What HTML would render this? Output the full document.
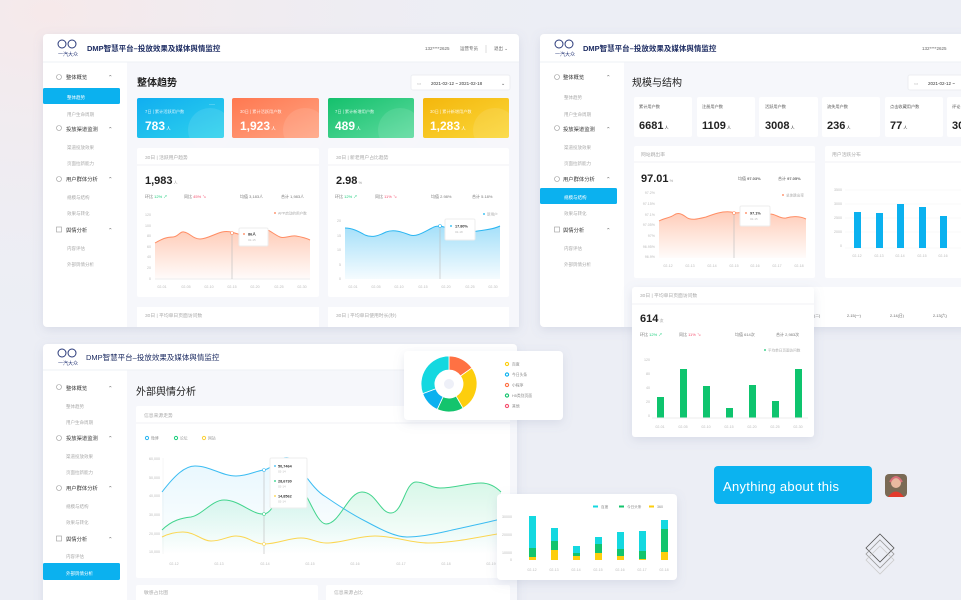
<!DOCTYPE html>
<html><head><meta charset="utf-8"><style>
html,body{margin:0;padding:0;width:961px;height:600px;overflow:hidden;background:#eceef5}
svg{display:block}
text{font-family:"Liberation Sans","Noto Sans CJK SC",sans-serif}
</style></head><body>
<svg width="961" height="600" viewBox="0 0 961 600" xmlns="http://www.w3.org/2000/svg">
<defs>
<radialGradient id="bg1" cx="0.05" cy="0.02" r="0.6"><stop offset="0" stop-color="#f6e9ea"/><stop offset="1" stop-color="#eceef5" stop-opacity="0"/></radialGradient>
<linearGradient id="gB" x1="0" y1="0" x2="1" y2="1"><stop offset="0" stop-color="#10aef0"/><stop offset="1" stop-color="#2fd2ec"/></linearGradient>
<linearGradient id="gO" x1="0" y1="0" x2="1" y2="1"><stop offset="0" stop-color="#ff7850"/><stop offset="1" stop-color="#ffa584"/></linearGradient>
<linearGradient id="gG" x1="0" y1="0" x2="1" y2="1"><stop offset="0" stop-color="#14c06c"/><stop offset="1" stop-color="#5edb9f"/></linearGradient>
<linearGradient id="gY" x1="0" y1="0" x2="1" y2="1"><stop offset="0" stop-color="#f4b60c"/><stop offset="1" stop-color="#fbd83a"/></linearGradient>
<linearGradient id="aO" x1="0" y1="0" x2="0" y2="1"><stop offset="0" stop-color="#ff8a5c" stop-opacity=".45"/><stop offset="1" stop-color="#ff8a5c" stop-opacity=".03"/></linearGradient>
<linearGradient id="aB" x1="0" y1="0" x2="0" y2="1"><stop offset="0" stop-color="#36b9f2" stop-opacity=".45"/><stop offset="1" stop-color="#36b9f2" stop-opacity=".05"/></linearGradient>
<linearGradient id="aG" x1="0" y1="0" x2="0" y2="1"><stop offset="0" stop-color="#1ccf7d" stop-opacity=".18"/><stop offset="1" stop-color="#1ccf7d" stop-opacity="0"/></linearGradient>
<linearGradient id="aLB" x1="0" y1="0" x2="0" y2="1"><stop offset="0" stop-color="#36b9f2" stop-opacity=".12"/><stop offset="1" stop-color="#36b9f2" stop-opacity="0"/></linearGradient>
<filter id="sh" x="-10%" y="-10%" width="120%" height="130%"><feDropShadow dx="0" dy="3" stdDeviation="5" flood-color="#7a86a8" flood-opacity=".18"/></filter>
</defs>
<rect width="961" height="600" fill="#eceef5"/>
<rect width="961" height="600" fill="url(#bg1)"/>

<!-- ================= PANEL 1 ================= -->
<g>
<rect x="43" y="34" width="476" height="293" rx="4" fill="#fff" filter="url(#sh)"/>
<rect x="127" y="62" width="392" height="265" fill="#f6f7fb"/>
<line x1="43" y1="62" x2="519" y2="62" stroke="#eef0f4"/>
<circle cx="62" cy="44" r="4" fill="none" stroke="#2a3a7a"/><circle cx="72" cy="44" r="4" fill="none" stroke="#2a3a7a"/>
<text x="58" y="56" font-size="5" fill="#2a3a7a">一汽大众</text>
<text x="87" y="51" font-size="7.5" fill="#1e2d63" font-weight="bold">DMP智慧平台–投放效果及媒体舆情监控</text>
<text x="425" y="50" font-size="4.5" fill="#666">132****2625</text>
<text x="460" y="50" font-size="4.5" fill="#666">运营专员</text>
<line x1="486" y1="45" x2="486" y2="53" stroke="#ddd"/>
<text x="494" y="50" font-size="4.5" fill="#666">退出 ⌄</text>
<g font-size="5.3" fill="#333">
<circle cx="59" cy="77" r="2.5" fill="none" stroke="#999" stroke-width=".6"/><text x="66" y="79">整体概览</text><text x="108" y="79" fill="#666">⌃</text>
<circle cx="59" cy="128" r="2.5" fill="none" stroke="#999" stroke-width=".6"/><text x="66" y="131">投放渠道监测</text><text x="108" y="131" fill="#666">⌃</text>
<circle cx="59" cy="179" r="2.5" fill="none" stroke="#999" stroke-width=".6"/><text x="66" y="181">用户群体分析</text><text x="108" y="181" fill="#666">⌃</text>
<rect x="56.5" y="227" width="5" height="5" fill="none" stroke="#999" stroke-width=".6"/><text x="66" y="232">舆情分析</text><text x="108" y="232" fill="#666">⌃</text>
</g>
<rect x="43" y="88" width="77" height="16" rx="1.5" fill="#0bb1ef"/>
<g font-size="4.5" fill="#aaa">
<text x="67" y="99" fill="#fff">整体趋势</text>
<text x="67" y="116">用户生命周期</text>
<text x="67" y="149">渠道投放效果</text>
<text x="67" y="165">页面拉新能力</text>
<text x="67" y="199">规模与结构</text>
<text x="67" y="215">效果与转化</text>
<text x="67" y="250">内容评估</text>
<text x="67" y="266">外部舆情分析</text>
</g>
<text x="137" y="86" font-size="10" fill="#222" font-weight="bold">整体趋势</text>
<rect x="411" y="75" width="99" height="15" rx="2" fill="#fff" stroke="#eceef2"/>
<text x="417" y="85" font-size="4.5" fill="#bbb">▭</text>
<text x="431" y="85" font-size="4.5" fill="#333">2021-02-12 ~ 2021-02-18</text>
<text x="501" y="85" font-size="5" fill="#555">⌄</text>
<!-- color cards -->
<g>
<rect x="137" y="98" width="87" height="40" rx="2" fill="url(#gB)"/>
<circle cx="210" cy="130" r="22" fill="#fff" opacity=".1"/>
<rect x="232" y="98" width="87" height="40" rx="2" fill="url(#gO)"/>
<circle cx="305" cy="130" r="22" fill="#fff" opacity=".1"/>
<rect x="328" y="98" width="86" height="40" rx="2" fill="url(#gG)"/>
<circle cx="400" cy="130" r="22" fill="#fff" opacity=".1"/>
<rect x="423" y="98" width="86" height="40" rx="2" fill="url(#gY)"/>
<circle cx="495" cy="130" r="22" fill="#fff" opacity=".1"/>
<g font-size="4.2" fill="#fff" opacity=".85">
<text x="145" y="113">7日 | 累计活跃用户数</text><text x="240" y="113">30日 | 累计活跃用户数</text>
<text x="335" y="113">7日 | 累计新增用户数</text><text x="430" y="113">30日 | 累计新增用户数</text>
</g>
<text x="209" y="106" font-size="6" fill="#fff">···</text>
<g font-size="12" fill="#fff" font-weight="bold">
<text x="145" y="130">783<tspan font-size="4.5" font-weight="normal"> 人</tspan></text>
<text x="240" y="130">1,923<tspan font-size="4.5" font-weight="normal"> 人</tspan></text>
<text x="335" y="130">489<tspan font-size="4.5" font-weight="normal"> 人</tspan></text>
<text x="430" y="130">1,283<tspan font-size="4.5" font-weight="normal"> 人</tspan></text>
</g>
</g>
<!-- chart card 1 -->
<rect x="137" y="148" width="182" height="149" rx="2" fill="#fff"/>
<line x1="137" y1="165" x2="319" y2="165" stroke="#f0f1f5"/>
<text x="145" y="159" font-size="4.8" fill="#aaa">30日 | 活跃用户趋势</text>
<text x="145" y="184" font-size="11" fill="#222" font-weight="bold">1,983<tspan font-size="4" font-weight="normal" fill="#999"> 人</tspan></text>
<g font-size="4" fill="#777"><text x="145" y="198">环比 <tspan fill="#1ccf7d">12% ↗</tspan></text><text x="184" y="198">同比 <tspan fill="#f5506f">45% ↘</tspan></text><text x="240" y="198">均值 3,183人</text><text x="281" y="198">合计 1,983人</text></g>
<circle cx="275" cy="213" r=".9" fill="#ff7a4c"/><text x="278" y="214.5" font-size="3.6" fill="#aaa">APP启动的用户数</text>
<g font-size="3.6" fill="#bbb" text-anchor="end"><text x="151" y="216">120</text><text x="151" y="227">100</text><text x="151" y="237">80</text><text x="151" y="248">60</text><text x="151" y="258">40</text><text x="151" y="269">20</text><text x="151" y="280">0</text></g>
<path d="M155,243 C162,239 166,237 173,237 C178,237 180,231 184,232 C190,233 193,239 200,239 C207,239 214,234 222,232 C230,230 236,234 242,235 C248,233 252,228 260,228 C268,228 273,234 280,237 C285,239 290,235 296,236 C302,237 306,238 310,240 L310,279 L155,279Z" fill="url(#aO)"/>
<path d="M155,243 C162,239 166,237 173,237 C178,237 180,231 184,232 C190,233 193,239 200,239 C207,239 214,234 222,232 C230,230 236,234 242,235 C248,233 252,228 260,228 C268,228 273,234 280,237 C285,239 290,235 296,236 C302,237 306,238 310,240" fill="none" stroke="#ff8d64" stroke-width="1"/>
<line x1="155" y1="279" x2="310" y2="279" stroke="#eee"/>
<line x1="232" y1="233" x2="232" y2="279" stroke="#bbb" stroke-width=".6"/>
<circle cx="232" cy="233" r="1.5" fill="#fff" stroke="#ff8d64" stroke-width=".6"/>
<rect x="239" y="228" width="29" height="18" rx="1.5" fill="#fff" stroke="#eee"/>
<circle cx="244" cy="234" r=".9" fill="#ff7a4c"/><text x="248" y="235.5" font-size="3.8" fill="#333" font-weight="bold">86人</text><text x="248" y="241" font-size="3" fill="#bbb">02-15</text>
<g font-size="3.6" fill="#bbb" text-anchor="middle"><text x="162" y="288">02-01</text><text x="186" y="288">02-05</text><text x="209" y="288">02-10</text><text x="232" y="288">02-15</text><text x="255" y="288">02-20</text><text x="279" y="288">02-25</text><text x="302" y="288">02-30</text></g>
<!-- chart card 2 -->
<rect x="328" y="148" width="181" height="149" rx="2" fill="#fff"/>
<line x1="328" y1="165" x2="509" y2="165" stroke="#f0f1f5"/>
<text x="336" y="159" font-size="4.8" fill="#aaa">30日 | 新老用户占比趋势</text>
<text x="336" y="184" font-size="11" fill="#222" font-weight="bold">2.98<tspan font-size="4" font-weight="normal" fill="#999"> %</tspan></text>
<g font-size="4" fill="#777"><text x="335" y="198">环比 <tspan fill="#1ccf7d">12% ↗</tspan></text><text x="375" y="198">同比 <tspan fill="#f5506f">11% ↘</tspan></text><text x="431" y="198">均值 2.98%</text><text x="472" y="198">合计 5.18%</text></g>
<circle cx="484" cy="214" r=".9" fill="#0bb1ef"/><text x="487" y="215.5" font-size="3.6" fill="#aaa">新用户</text>
<g font-size="3.6" fill="#bbb" text-anchor="end"><text x="341" y="222">20</text><text x="341" y="237">15</text><text x="341" y="251">10</text><text x="341" y="266">5</text><text x="341" y="280">0</text></g>
<path d="M345,228 C352,228 358,231 365,235 C372,238 378,236 386,232 C394,229 402,232 410,235 C417,237 424,232 432,228 C438,224 446,227 452,231 C458,234 464,234 472,232 C482,230 492,230 500,226 L500,279 L345,279Z" fill="url(#aB)"/>
<path d="M345,228 C352,228 358,231 365,235 C372,238 378,236 386,232 C394,229 402,232 410,235 C417,237 424,232 432,228 C438,224 446,227 452,231 C458,234 464,234 472,232 C482,230 492,230 500,226" fill="none" stroke="#2cb6f1" stroke-width="1"/>
<line x1="440" y1="226" x2="440" y2="279" stroke="#bbb" stroke-width=".6"/>
<circle cx="440" cy="226" r="1.5" fill="#fff" stroke="#2cb6f1" stroke-width=".6"/>
<rect x="445" y="219" width="30" height="21" rx="1.5" fill="#fff" stroke="#eee"/>
<circle cx="451" cy="226" r=".9" fill="#0bb1ef"/><text x="455" y="227.5" font-size="3.8" fill="#333" font-weight="bold">17.80%</text><text x="455" y="233" font-size="3" fill="#bbb">02-18</text>
<g font-size="3.6" fill="#bbb" text-anchor="middle"><text x="353" y="288">02-01</text><text x="376" y="288">02-05</text><text x="399" y="288">02-10</text><text x="423" y="288">02-15</text><text x="446" y="288">02-20</text><text x="470" y="288">02-25</text><text x="493" y="288">02-30</text></g>
<rect x="137" y="307" width="182" height="20" fill="#fff"/><text x="145" y="317" font-size="4.8" fill="#aaa">30日 | 平均单日页面访问数</text>
<rect x="328" y="307" width="181" height="20" fill="#fff"/><text x="336" y="317" font-size="4.8" fill="#aaa">30日 | 平均单日使用时长(秒)</text>
</g>

<!-- ================= PANEL 2 ================= -->
<g>
<rect x="540" y="34" width="430" height="293" rx="4" fill="#fff" filter="url(#sh)"/>
<rect x="624" y="62" width="340" height="265" fill="#f6f7fb"/>
<line x1="540" y1="62" x2="961" y2="62" stroke="#eef0f4"/>
<circle cx="559" cy="44" r="4" fill="none" stroke="#2a3a7a"/><circle cx="569" cy="44" r="4" fill="none" stroke="#2a3a7a"/>
<text x="555" y="56" font-size="5" fill="#2a3a7a">一汽大众</text>
<text x="583" y="51" font-size="7.5" fill="#1e2d63" font-weight="bold">DMP智慧平台–投放效果及媒体舆情监控</text>
<text x="922" y="50" font-size="4.5" fill="#666">132****2625</text>
<g font-size="5.3" fill="#333">
<circle cx="557" cy="77" r="2.5" fill="none" stroke="#999" stroke-width=".6"/><text x="563" y="79">整体概览</text><text x="606" y="79" fill="#666">⌃</text>
<circle cx="557" cy="128" r="2.5" fill="none" stroke="#999" stroke-width=".6"/><text x="563" y="131">投放渠道监测</text><text x="606" y="131" fill="#666">⌃</text>
<circle cx="557" cy="179" r="2.5" fill="none" stroke="#999" stroke-width=".6"/><text x="563" y="181">用户群体分析</text><text x="606" y="181" fill="#666">⌃</text>
<rect x="554.5" y="227" width="5" height="5" fill="none" stroke="#999" stroke-width=".6"/><text x="563" y="232">舆情分析</text><text x="606" y="232" fill="#666">⌃</text>
</g>
<rect x="540" y="188" width="77" height="16" rx="1.5" fill="#0bb1ef"/>
<g font-size="4.5" fill="#aaa">
<text x="564" y="99">整体趋势</text><text x="564" y="116">用户生命周期</text><text x="564" y="149">渠道投放效果</text><text x="564" y="165">页面拉新能力</text>
<text x="564" y="199" fill="#fff">规模与结构</text><text x="564" y="215">效果与转化</text><text x="564" y="250">内容评估</text><text x="564" y="266">外部舆情分析</text>
</g>
<text x="632" y="86" font-size="10" fill="#222">规模与结构</text>
<rect x="908" y="75" width="70" height="15" rx="2" fill="#fff" stroke="#eceef2"/>
<text x="914" y="85" font-size="4.5" fill="#bbb">▭</text><text x="928" y="85" font-size="4.5" fill="#333">2021-02-12 ~</text>
<g fill="#fff">
<rect x="634" y="97" width="58" height="40" rx="2"/><rect x="697" y="97" width="58" height="40" rx="2"/><rect x="759" y="97" width="59" height="40" rx="2"/><rect x="822" y="97" width="58" height="40" rx="2"/><rect x="885" y="97" width="58" height="40" rx="2"/><rect x="947" y="97" width="30" height="40" rx="2"/>
</g>
<g font-size="4.2" fill="#555"><text x="639" y="108">累计用户数</text><text x="702" y="108">注册用户数</text><text x="765" y="108">活跃用户数</text><text x="827" y="108">流失用户数</text><text x="890" y="108">点击收藏用户数</text><text x="952" y="108">评论</text></g>
<g font-size="11" fill="#222" font-weight="bold"><text x="639" y="129">6681<tspan font-size="4" font-weight="normal"> 人</tspan></text><text x="702" y="129">1109<tspan font-size="4" font-weight="normal"> 人</tspan></text><text x="765" y="129">3008<tspan font-size="4" font-weight="normal"> 人</tspan></text><text x="827" y="129">236<tspan font-size="4" font-weight="normal"> 人</tspan></text><text x="890" y="129">77<tspan font-size="4" font-weight="normal"> 人</tspan></text><text x="952" y="129">30</text></g>
<!-- bounce chart -->
<rect x="634" y="146" width="181" height="132" rx="2" fill="#fff"/>
<line x1="634" y1="162" x2="815" y2="162" stroke="#f0f1f5"/>
<text x="641" y="156" font-size="4.8" fill="#aaa">网站跳出率</text>
<text x="641" y="182" font-size="11" fill="#222" font-weight="bold">97.01<tspan font-size="4" font-weight="normal" fill="#999"> %</tspan></text>
<g font-size="4" fill="#666"><text x="738" y="180">均值 <tspan font-weight="bold">97.03%</tspan></text><text x="778" y="180">合计 <tspan font-weight="bold">97.05%</tspan></text></g>
<circle cx="783" cy="195" r=".9" fill="#ff7a4c"/><text x="786" y="196.5" font-size="3.6" fill="#aaa">总体跳出率</text>
<g font-size="3.6" fill="#bbb" text-anchor="end"><text x="655" y="194">97.2%</text><text x="655" y="205">97.15%</text><text x="655" y="216">97.1%</text><text x="655" y="226">97.05%</text><text x="655" y="237">97%</text><text x="655" y="248">96.95%</text><text x="655" y="258">96.9%</text></g>
<path d="M659,221 C664,218 670,218 674,215 C678,212 682,214 686,217 C691,221 698,219 706,217 C714,214 722,211 731,212 C738,214 744,212 752,210 C760,209 764,213 770,214 C776,214 780,219 786,218 C792,216 800,216 806,219 L806,258 L659,258Z" fill="url(#aO)"/>
<path d="M659,221 C664,218 670,218 674,215 C678,212 682,214 686,217 C691,221 698,219 706,217 C714,214 722,211 731,212 C738,214 744,212 752,210 C760,209 764,213 770,214 C776,214 780,219 786,218 C792,216 800,216 806,219" fill="none" stroke="#ff8d64" stroke-width="1"/>
<line x1="734" y1="213" x2="734" y2="258" stroke="#bbb" stroke-width=".6"/>
<circle cx="734" cy="213" r="1.5" fill="#fff" stroke="#ff8d64" stroke-width=".6"/>
<rect x="740" y="206" width="30" height="20" rx="1.5" fill="#fff" stroke="#eee"/>
<circle cx="746" cy="213" r=".9" fill="#ff7a4c"/><text x="750" y="214.5" font-size="3.8" fill="#333" font-weight="bold">97.1%</text><text x="750" y="220" font-size="3" fill="#bbb">02-15</text>
<g font-size="3.6" fill="#bbb" text-anchor="middle"><text x="668" y="267">02-12</text><text x="690" y="267">02-13</text><text x="712" y="267">02-14</text><text x="734" y="267">02-15</text><text x="755" y="267">02-16</text><text x="777" y="267">02-17</text><text x="799" y="267">02-18</text></g>
<!-- activity bar chart -->
<rect x="825" y="146" width="145" height="132" rx="2" fill="#fff"/>
<line x1="825" y1="162" x2="961" y2="162" stroke="#f0f1f5"/>
<text x="832" y="156" font-size="4.8" fill="#aaa">用户活跃分布</text>
<g font-size="3.6" fill="#bbb" text-anchor="end"><text x="842" y="191">3500</text><text x="842" y="205">3000</text><text x="842" y="219">2500</text><text x="842" y="233">2000</text><text x="842" y="247">0</text></g>
<g stroke="#f2f2f2" stroke-width=".5"><line x1="845" y1="190" x2="961" y2="190"/><line x1="845" y1="204" x2="961" y2="204"/><line x1="845" y1="218" x2="961" y2="218"/><line x1="845" y1="232" x2="961" y2="232"/><line x1="845" y1="248" x2="961" y2="248"/></g>
<g fill="#0bb1ef"><rect x="854" y="212" width="7" height="36"/><rect x="876" y="213" width="7" height="35"/><rect x="897" y="204" width="7" height="44"/><rect x="919" y="207" width="7" height="41"/><rect x="940" y="216" width="7" height="32"/></g>
<g font-size="3.6" fill="#bbb" text-anchor="middle"><text x="857" y="257">02-12</text><text x="879" y="257">02-13</text><text x="900" y="257">02-14</text><text x="922" y="257">02-15</text><text x="943" y="257">02-16</text></g>
<rect x="634" y="287" width="340" height="40" fill="#fff"/>
<g font-size="3.8" fill="#666"><text x="814" y="317">(二)</text><text x="847" y="317">2-15(一)</text><text x="890" y="317">2-14(日)</text><text x="933" y="317">2-13(六)</text></g>
</g>
<!-- floating card: 614 -->
<g>
<rect x="632" y="287" width="182" height="150" rx="3" fill="#fff" filter="url(#sh)"/>
<line x1="632" y1="304" x2="814" y2="304" stroke="#f0f1f5"/>
<text x="640" y="297" font-size="4.8" fill="#aaa">30日 | 平均单日页面访问数</text>
<text x="640" y="322" font-size="11" fill="#222" font-weight="bold">614<tspan font-size="4" font-weight="normal" fill="#999"> 次</tspan></text>
<g font-size="4" fill="#777"><text x="640" y="336">环比 <tspan fill="#1ccf7d">12% ↗</tspan></text><text x="679" y="336">同比 <tspan fill="#f5506f">11% ↘</tspan></text><text x="735" y="336">均值 614次</text><text x="776" y="336">合计 2,983次</text></g>
<circle cx="765" cy="350" r=".9" fill="#0ec46e"/><text x="768" y="351.5" font-size="3.6" fill="#aaa">平均单日页面访问数</text>
<g font-size="3.6" fill="#bbb" text-anchor="end"><text x="650" y="361">120</text><text x="650" y="375">80</text><text x="650" y="389">40</text><text x="650" y="403">20</text><text x="650" y="417">0</text></g>
<g fill="#0ec46e"><rect x="657" y="397" width="7" height="21"/><rect x="680" y="369" width="7" height="49"/><rect x="703" y="386" width="7" height="32"/><rect x="726" y="408" width="7" height="10"/><rect x="749" y="385" width="7" height="33"/><rect x="772" y="401" width="7" height="17"/><rect x="795" y="369" width="7" height="49"/></g>
<line x1="652" y1="418" x2="808" y2="418" stroke="#eee"/>
<g font-size="3.6" fill="#bbb" text-anchor="middle"><text x="660" y="428">02-01</text><text x="683" y="428">02-05</text><text x="706" y="428">02-10</text><text x="729" y="428">02-15</text><text x="752" y="428">02-20</text><text x="775" y="428">02-25</text><text x="798" y="428">02-30</text></g>
</g>

<!-- ================= PANEL 3 ================= -->
<g>
<rect x="43" y="344" width="474" height="270" rx="4" fill="#fff" filter="url(#sh)"/>
<rect x="127" y="370" width="390" height="230" fill="#f6f7fb"/>
<line x1="43" y1="370" x2="517" y2="370" stroke="#eef0f4"/>
<circle cx="62" cy="353" r="4" fill="none" stroke="#2a3a7a"/><circle cx="72" cy="353" r="4" fill="none" stroke="#2a3a7a"/>
<text x="58" y="365" font-size="5" fill="#2a3a7a">一汽大众</text>
<text x="86" y="360" font-size="7.5" fill="#1e2d63">DMP智慧平台–投放效果及媒体舆情监控</text>
<g font-size="5.3" fill="#333">
<circle cx="59" cy="387" r="2.5" fill="none" stroke="#999" stroke-width=".6"/><text x="66" y="390">整体概览</text><text x="108" y="390" fill="#666">⌃</text>
<circle cx="59" cy="438" r="2.5" fill="none" stroke="#999" stroke-width=".6"/><text x="66" y="440">投放渠道监测</text><text x="108" y="440" fill="#666">⌃</text>
<circle cx="59" cy="488" r="2.5" fill="none" stroke="#999" stroke-width=".6"/><text x="66" y="490">用户群体分析</text><text x="108" y="490" fill="#666">⌃</text>
<rect x="56.5" y="536" width="5" height="5" fill="none" stroke="#999" stroke-width=".6"/><text x="66" y="541">舆情分析</text><text x="108" y="541" fill="#666">⌃</text>
</g>
<rect x="43" y="563" width="77" height="17" rx="1.5" fill="#0bb1ef"/>
<g font-size="4.5" fill="#aaa">
<text x="66" y="408">整体趋势</text><text x="66" y="424">用户生命周期</text><text x="66" y="458">渠道投放效果</text><text x="66" y="474">页面拉新能力</text>
<text x="66" y="508">规模与结构</text><text x="66" y="524">效果与转化</text><text x="66" y="558">内容评估</text><text x="66" y="575" fill="#fff">外部舆情分析</text>
</g>
<text x="136" y="395" font-size="10" fill="#222">外部舆情分析</text>
<rect x="136" y="406" width="374" height="172" rx="2" fill="#fff"/>
<line x1="136" y1="423" x2="510" y2="423" stroke="#f0f1f5"/>
<text x="144" y="417" font-size="4.8" fill="#aaa">信息来源走势</text>
<g font-size="3.8" fill="#999">
<circle cx="147" cy="438" r="1.6" fill="none" stroke="#2cb6f1" stroke-width="1"/><text x="151" y="439.5">微博</text>
<circle cx="176" cy="438" r="1.6" fill="none" stroke="#1ccf7d" stroke-width="1"/><text x="180" y="439.5">论坛</text>
<circle cx="204" cy="438" r="1.6" fill="none" stroke="#fbd13a" stroke-width="1"/><text x="208" y="439.5">网站</text>
</g>
<g font-size="3.6" fill="#bbb" text-anchor="end"><text x="160" y="460">60,000</text><text x="160" y="479">50,000</text><text x="160" y="497">40,000</text><text x="160" y="516">30,000</text><text x="160" y="535">20,000</text><text x="160" y="553">10,000</text></g>
<line x1="163" y1="458" x2="163" y2="554" stroke="#eee" stroke-width=".5"/>
<path d="M162,492 C175,475 185,466 195,466 C210,466 222,476 236,476 C248,476 255,471 264,470 C274,468 280,455 289,458 C300,463 310,488 326,497 C342,508 355,516 367,522 C380,529 395,537 407,537 C420,537 435,534 448,531 C465,527 485,523 501,519 L501,554 L162,554Z" fill="url(#aLB)"/>
<path d="M162,530 C172,520 182,518 191,517 C202,515 212,500 224,500 C240,500 252,515 264,514 C276,513 282,478 293,480 C305,482 315,524 326,524 C340,524 348,492 362,492 C376,492 380,513 391,513 C403,513 405,482 416,482 C426,482 430,488 440,488 C455,488 468,483 481,483 C490,483 497,488 501,492 L501,554 L162,554Z" fill="url(#aG)"/>
<path d="M162,492 C175,475 185,466 195,466 C210,466 222,476 236,476 C248,476 255,471 264,470 C274,468 280,455 289,458 C300,463 310,488 326,497 C342,508 355,516 367,522 C380,529 395,537 407,537 C420,537 435,534 448,531 C465,527 485,523 501,519" fill="none" stroke="#3bbcf2" stroke-width="1"/>
<path d="M162,530 C172,520 182,518 191,517 C202,515 212,500 224,500 C240,500 252,515 264,514 C276,513 282,478 293,480 C305,482 315,524 326,524 C340,524 348,492 362,492 C376,492 380,513 391,513 C403,513 405,482 416,482 C426,482 430,488 440,488 C455,488 468,483 481,483 C490,483 497,488 501,492" fill="none" stroke="#42d48d" stroke-width="1"/>
<path d="M162,537 C170,533 176,532 183,532 C195,532 202,541 211,541 C222,541 228,536 236,536 C248,536 254,544 264,544 C278,544 288,538 301,538 C312,538 316,543 326,543 C342,543 358,536 375,536 C395,536 410,543 428,543 C450,543 475,538 497,534" fill="none" stroke="#fbd651" stroke-width="1"/>
<line x1="264" y1="470" x2="264" y2="554" stroke="#bbb" stroke-width=".6"/>
<circle cx="264" cy="470" r="1.5" fill="#fff" stroke="#3bbcf2" stroke-width=".6"/>
<circle cx="264" cy="514" r="1.5" fill="#fff" stroke="#42d48d" stroke-width=".6"/>
<circle cx="264" cy="544" r="1.5" fill="#fff" stroke="#fbd651" stroke-width=".6"/>
<rect x="270" y="458" width="37" height="50" rx="1.5" fill="#fff" stroke="#eee"/>
<g font-size="3.8" font-weight="bold" fill="#333"><circle cx="275" cy="466" r=".9" fill="#2cb6f1"/><text x="278" y="467.5">50,7464</text><circle cx="275" cy="481" r=".9" fill="#1ccf7d"/><text x="278" y="482.5">28,6730</text><circle cx="275" cy="496" r=".9" fill="#fbd13a"/><text x="278" y="497.5">14,8562</text></g>
<g font-size="3" fill="#bbb"><text x="278" y="472.5">02-14</text><text x="278" y="487.5">02-14</text><text x="278" y="502.5">02-14</text></g>
<g font-size="3.6" fill="#bbb" text-anchor="middle"><text x="174" y="565">02-12</text><text x="219" y="565">02-13</text><text x="265" y="565">02-14</text><text x="310" y="565">02-15</text><text x="355" y="565">02-16</text><text x="401" y="565">02-17</text><text x="446" y="565">02-18</text><text x="491" y="565">02-19</text></g>
<rect x="136" y="585" width="182" height="20" rx="2" fill="#fff"/><text x="144" y="594" font-size="4.8" fill="#aaa">敏感占比图</text>
<rect x="326" y="585" width="184" height="20" rx="2" fill="#fff"/><text x="334" y="594" font-size="4.8" fill="#aaa">信息来源占比</text>
</g>

<!-- donut card -->
<g>
<rect x="404" y="351" width="159" height="69" rx="4" fill="#fff" filter="url(#sh)"/>
<g transform="translate(449,384)">
<path d="M0,-28 A28,28 0 0 1 22.9,-16.1 L11.5,-8.0 A14,14 0 0 0 0,-14Z" fill="#ff7143" stroke="#fff" stroke-width=".8"/>
<path d="M22.9,-16.1 A28,28 0 0 1 14,24.2 L7,12.1 A14,14 0 0 0 11.5,-8.0Z" fill="#fdce0d" stroke="#fff" stroke-width=".8"/>
<path d="M14,24.2 A28,28 0 0 1 -11.8,25.4 L-5.9,12.7 A14,14 0 0 0 7,12.1Z" fill="#13c46d" stroke="#fff" stroke-width=".8"/>
<path d="M-11.8,25.4 A28,28 0 0 1 -26.3,9.6 L-13.2,4.8 A14,14 0 0 0 -5.9,12.7Z" fill="#0bb1ef" stroke="#fff" stroke-width=".8"/>
<path d="M-26.3,9.6 A28,28 0 0 1 0,-28 L0,-14 A14,14 0 0 0 -13.2,4.8Z" fill="#14d8e0" stroke="#fff" stroke-width=".8"/>
<circle r="5" fill="#eef0f8"/>
</g>
<g font-size="3.8" fill="#888">
<circle cx="507" cy="364" r="1.6" fill="none" stroke="#fdce0d" stroke-width="1.1"/><text x="512" y="365.5">百度</text>
<circle cx="507" cy="374.5" r="1.6" fill="none" stroke="#0bb1ef" stroke-width="1.1"/><text x="512" y="376">今日头条</text>
<circle cx="507" cy="385" r="1.6" fill="none" stroke="#ff7143" stroke-width="1.1"/><text x="512" y="386.5">小程序</text>
<circle cx="507" cy="395.5" r="1.6" fill="none" stroke="#13c46d" stroke-width="1.1"/><text x="512" y="397">H5类别页面</text>
<circle cx="507" cy="406" r="1.6" fill="none" stroke="#f5506f" stroke-width="1.1"/><text x="512" y="407.5">其他</text>
</g>
</g>

<!-- stacked bar card -->
<g>
<rect x="497" y="494" width="180" height="86" rx="4" fill="#fff" filter="url(#sh)"/>
<g font-size="3.6" fill="#888">
<rect x="593" y="505.5" width="5" height="2" fill="#14d8e0"/><text x="601" y="508">百度</text>
<rect x="619" y="505.5" width="5" height="2" fill="#13c46d"/><text x="627" y="508">今日头条</text>
<rect x="649" y="505.5" width="5" height="2" fill="#fdce0d"/><text x="657" y="508">360</text>
</g>
<g font-size="3.6" fill="#bbb" text-anchor="end"><text x="512" y="518">30000</text><text x="512" y="536">20000</text><text x="512" y="554">10000</text><text x="512" y="561">0</text></g>
<g>
<rect x="529" y="516" width="7" height="32" fill="#14d8e0"/><rect x="529" y="548" width="7" height="9" fill="#13c46d"/><rect x="529" y="557" width="7" height="3" fill="#fdce0d"/>
<rect x="551" y="528" width="7" height="13" fill="#14d8e0"/><rect x="551" y="541" width="7" height="9" fill="#13c46d"/><rect x="551" y="550" width="7" height="10" fill="#fdce0d"/>
<rect x="573" y="546" width="7" height="7" fill="#14d8e0"/><rect x="573" y="553" width="7" height="3" fill="#13c46d"/><rect x="573" y="556" width="7" height="4" fill="#fdce0d"/>
<rect x="595" y="537" width="7" height="7" fill="#14d8e0"/><rect x="595" y="544" width="7" height="9" fill="#13c46d"/><rect x="595" y="553" width="7" height="7" fill="#fdce0d"/>
<rect x="617" y="532" width="7" height="17" fill="#14d8e0"/><rect x="617" y="549" width="7" height="7" fill="#13c46d"/><rect x="617" y="556" width="7" height="4" fill="#fdce0d"/>
<rect x="639" y="531" width="7" height="20" fill="#14d8e0"/><rect x="639" y="551" width="7" height="8" fill="#13c46d"/><rect x="639" y="559" width="7" height="1" fill="#fdce0d"/>
<rect x="661" y="520" width="7" height="9" fill="#14d8e0"/><rect x="661" y="529" width="7" height="23" fill="#13c46d"/><rect x="661" y="552" width="7" height="8" fill="#fdce0d"/>
</g>
<g font-size="3.6" fill="#bbb" text-anchor="middle"><text x="532" y="571">02-12</text><text x="554" y="571">02-13</text><text x="576" y="571">02-14</text><text x="598" y="571">02-15</text><text x="620" y="571">02-16</text><text x="642" y="571">02-17</text><text x="664" y="571">02-18</text></g>
</g>

<!-- chat bubble -->
<rect x="714" y="466" width="158" height="38" rx="4" fill="#0bb3f0"/>
<text x="723" y="491" font-size="13" fill="#fff" letter-spacing=".3">Anything about this</text>
<rect x="885" y="474" width="22" height="23" rx="4" fill="#7a6a55"/>
<circle cx="896" cy="483" r="5" fill="#e8b9a0"/>
<path d="M888,497 Q896,486 904,497Z" fill="#e33a2c"/>
<path d="M890,482 Q896,472 902,482" fill="none" stroke="#d96f7a" stroke-width="2"/>
<!-- diamond logo -->
<g fill="none" stroke-width=".8">
<path d="M880,534 L894,548 L880,562 L866,548Z" stroke="#555"/>
<path d="M880,540 L894,554 L880,568 L866,554Z" stroke="#999"/>
<path d="M880,546 L894,560 L880,574 L866,560Z" stroke="#ccc"/>
</g>
</svg>
</body></html>
